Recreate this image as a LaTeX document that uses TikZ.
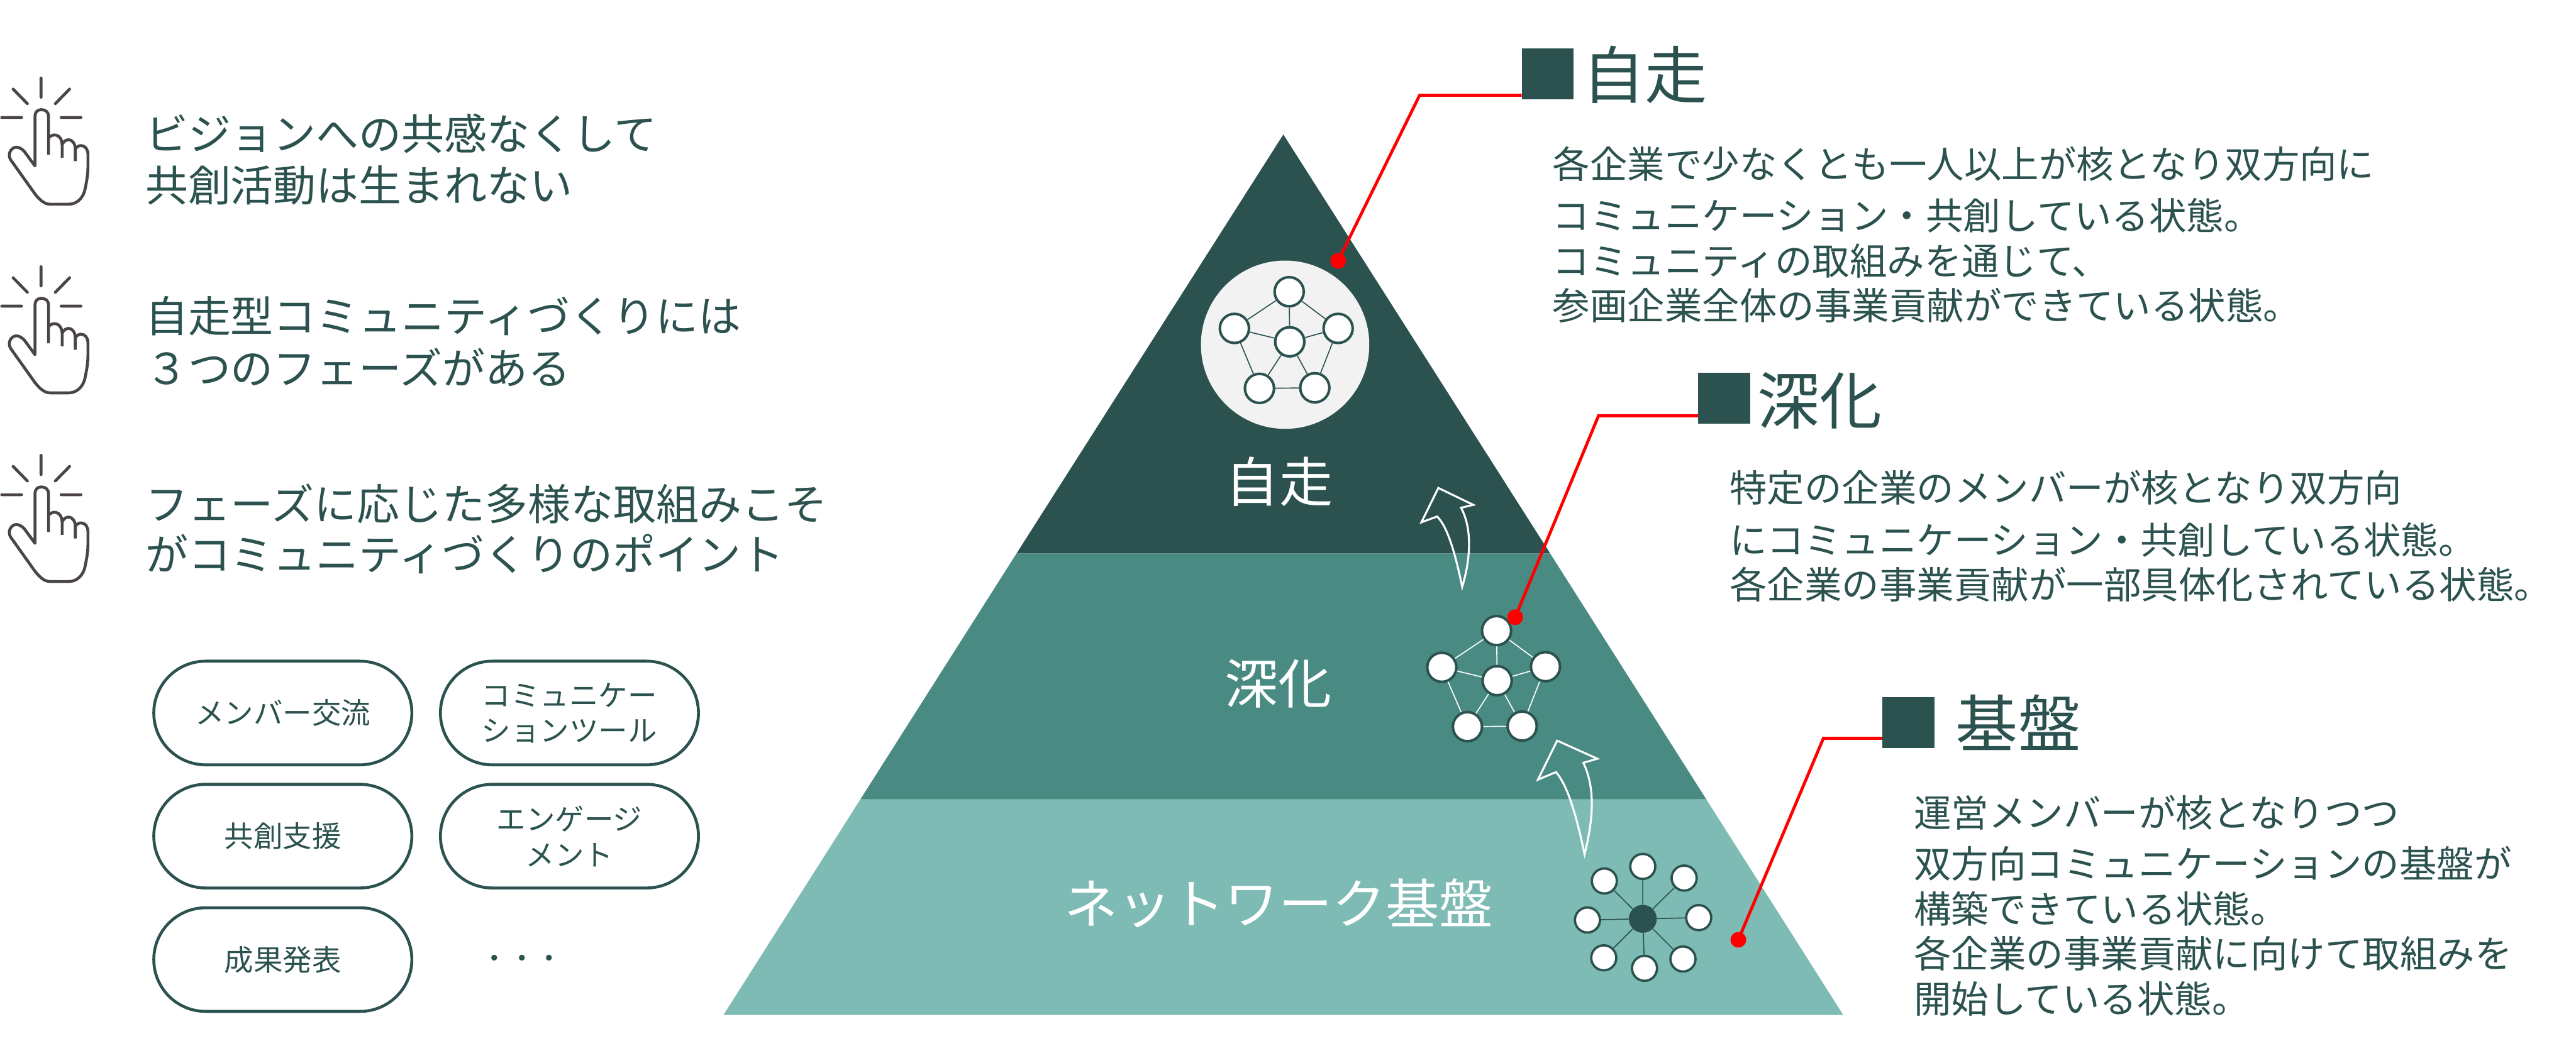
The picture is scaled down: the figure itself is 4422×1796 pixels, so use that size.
\documentclass[tikz,border=0pt]{standalone}
\usepackage{fontspec}
\usetikzlibrary{shapes.misc}
\setmainfont{Noto Sans CJK JP}
\definecolor{dk}{HTML}{2B524F}
\definecolor{md}{HTML}{498A83}
\definecolor{lt}{HTML}{7FBBB5}
\definecolor{hd}{HTML}{4A4544}
\definecolor{rd}{HTML}{FF0000}
\definecolor{pale}{HTML}{F2F2F2}
\tikzset{
  x=0.5pt,y=-0.5pt,
  lefttxt/.style={anchor=base west,inner sep=0pt,text=dk,font=\fontsize{36.7pt}{40pt}\selectfont},
  bodytxt/.style={anchor=base west,inner sep=0pt,text=dk,font=\fontsize{32.1pt}{36pt}\selectfont},
  headtxt/.style={anchor=base west,inner sep=0pt,text=dk,font=\fontsize{53.5pt}{56pt}\selectfont},
  pyrtxt/.style={anchor=base,inner sep=0pt,text=white,font=\fontsize{46pt}{50pt}\selectfont},
  pill/.style={draw=dk,line width=2.5pt,rounded rectangle,minimum width=221.5pt,minimum height=89pt,inner sep=0pt,align=center,text=dk,font=\fontsize{25.1pt}{30.5pt}\selectfont},
  headsq/.style={fill=dk,inner sep=0pt,minimum width=44.5pt,minimum height=44pt},
  netn/.style={circle,draw=dk,fill=white,line width=2.2pt,inner sep=0pt,minimum size=25pt},
  smalln/.style={circle,draw=dk,fill=white,line width=2pt,inner sep=0pt,minimum size=21.5pt},
  hubn/.style={circle,fill=dk,inner sep=0pt,minimum size=24pt},
  netedge/.style={line width=0.9pt},
  reddot/.style={circle,fill=rd,inner sep=0pt,minimum size=13.5pt},
  redline/.style={draw=rd,line width=2.6pt},
  uparrow/.style={draw=white,line width=1.7pt,miter limit=20},
  handicon/.pic={
    \draw[hd,line width=2.5pt,line cap=round] (70.5,134)--(70.5,167) (22.5,153)--(47,178) (119.5,153)--(95,178) (3,201.7)--(37,201.7) (105,201.7)--(139,201.7);
    \draw[hd,line width=2.5pt,line join=round] (83.3,265.7)--(83.3,200) .. controls (83.3,192) and (78,188.3) .. (70.7,188.3) .. controls (64,188.3) and (60,193) .. (60,200) -- (60,285) -- (41.7,260) .. controls (36,254) and (30,252) .. (26,253) .. controls (18,255) and (13,265) .. (18,274) -- (60,333) .. controls (68,343) and (76,350.7) .. (86,350.7) -- (118,350.7) .. controls (132,350.7) and (143,340) .. (146,325) .. controls (149,310) and (151,300) .. (151,285) -- (151,265) .. controls (151,256) and (146,250) .. (139,250) .. controls (135,250) and (132,252) .. (129.3,256) -- (129.3,276.7);
    \draw[hd,line width=2.5pt,line join=round] (83.3,236.7) .. controls (88,232) and (92,231.5) .. (96,232) .. controls (102,233) and (106.7,240) .. (106.7,248) -- (106.7,270.7);
    \draw[hd,line width=2.5pt,line join=round] (106.7,248) .. controls (110,242) and (114,240) .. (118,240) .. controls (124,240) and (129.3,247) .. (129.3,256);
  }
}
\begin{document}
\begin{tikzpicture}
\useasboundingbox[fill=white] (0,0) rectangle (4422,1796);
% pyramid
\fill[lt] (1477,1372.7)--(2929,1372.7)--(3164,1743)--(1242,1743)--cycle;
\fill[md] (1745,950.5)--(2661,950.5)--(2929,1372.7)--(1477,1372.7)--cycle;
\fill[dk] (2203,231)--(2661,950.5)--(1745,950.5)--cycle;
% growth arrows
\draw[uparrow] (2510,1008) .. controls (2526,955) and (2526,905) .. (2508,872) -- (2529,867) -- (2469,838) -- (2440,897) -- (2467,887) .. controls (2485,905) and (2498,950) .. cycle;
\draw[uparrow] (2720,1467) .. controls (2737,1400) and (2737,1350) .. (2718,1310) -- (2742,1303) -- (2673,1272) -- (2640,1339) -- (2671,1326) .. controls (2690,1348) and (2705,1395) .. cycle;
% top network
\node[circle,fill=pale,inner sep=0pt,minimum size=144.5pt] (topdisc) at (2206,592) {};
\node[netn] (a1) at (2213,501) {};
\node[netn] (a2) at (2119,564) {};
\node[netn] (a3) at (2297,564) {};
\node[netn] (a4) at (2214,587) {};
\node[netn] (a5) at (2162,667) {};
\node[netn] (a6) at (2257,666) {};
\draw[dk,netedge] (a1)--(a2) (a1)--(a3) (a1)--(a4) (a2)--(a4) (a3)--(a4) (a2)--(a5) (a3)--(a6) (a4)--(a5) (a4)--(a6) (a5)--(a6);
% middle network
\node[netn] (b1) at (2569,1083) {};
\node[netn] (b2) at (2475,1146) {};
\node[netn] (b3) at (2653,1145) {};
\node[netn] (b4) at (2570,1169) {};
\node[netn] (b5) at (2519,1248) {};
\node[netn] (b6) at (2613,1247) {};
\draw[white,netedge] (b1)--(b2) (b1)--(b3) (b1)--(b4) (b2)--(b4) (b3)--(b4) (b2)--(b5) (b3)--(b6) (b4)--(b5) (b4)--(b6) (b5)--(b6);
% bottom network
\node[hubn] (hub) at (2820,1578) {};
\node[smalln] (c1) at (2820,1488) {};
\node[smalln] (c2) at (2891,1508) {};
\node[smalln] (c3) at (2916,1576) {};
\node[smalln] (c4) at (2889,1647) {};
\node[smalln] (c5) at (2823,1663) {};
\node[smalln] (c6) at (2753,1645) {};
\node[smalln] (c7) at (2725,1580) {};
\node[smalln] (c8) at (2754,1513) {};
\draw[dk,netedge] (hub)--(c1) (hub)--(c2) (hub)--(c3) (hub)--(c4) (hub)--(c5) (hub)--(c6) (hub)--(c7) (hub)--(c8);
% pyramid labels
\node[pyrtxt] (ltop) at (2196,862) {自走};
\node[pyrtxt] (lmid) at (2194,1209) {深化};
\node[pyrtxt] (lbase) at (2195,1586) {ネットワーク基盤};
% headings
\node[headsq] (sq1) at (2657,127) {};
\node[headsq] (sq2) at (2959.5,684) {};
\node[headsq] (sq3) at (3276,1241) {};
\node[headtxt] (h1) at (2716,169) {自走};
\node[headtxt] (h2) at (3016,728) {深化};
\node[headtxt] (h3) at (3357,1283) {基盤};
% leaders
\coordinate (k1) at (2437,163.5);
\coordinate (k2) at (2744,714);
\coordinate (k3) at (3130,1268);
\node[reddot] (d1) at (2297,448) {};
\node[reddot] (d2) at (2601,1060) {};
\node[reddot] (d3) at (2984,1614) {};
\draw[redline] (d1.center)--(k1)--(k1-|sq1.west);
\draw[redline] (d2.center)--(k2)--(k2-|sq2.west);
\draw[redline] (d3.center)--(k3)--(k3-|sq3.west);
% right texts
\node[bodytxt] (t11) at (2665,306) {各企業で少なくとも一人以上が核となり双方向に};
\node[bodytxt] (t12) at (2665,395) {コミュニケーション・共創している状態。};
\node[bodytxt] (t13) at (2665,472) {コミュニティの取組みを通じて、};
\node[bodytxt] (t14) at (2665,549) {参画企業全体の事業貢献ができている状態。};
\node[bodytxt] (t21) at (2969,862) {特定の企業のメンバーが核となり双方向};
\node[bodytxt] (t22) at (2969,952) {にコミュニケーション・共創している状態。};
\node[bodytxt] (t23) at (2969,1028) {各企業の事業貢献が一部具体化されている状態。};
\node[bodytxt] (t31) at (3285,1420) {運営メンバーが核となりつつ};
\node[bodytxt] (t32) at (3285,1508) {双方向コミュニケーションの基盤が};
\node[bodytxt] (t33) at (3285,1585) {構築できている状態。};
\node[bodytxt] (t34) at (3285,1662) {各企業の事業貢献に向けて取組みを};
\node[bodytxt] (t35) at (3285,1740) {開始している状態。};
% hands
\pic at (0,0) {handicon};
\pic at (0,324) {handicon};
\pic at (0,648) {handicon};
% left texts
\node[lefttxt] (p11) at (249,257) {ビジョンへの共感なくして};
\node[lefttxt] (p12) at (249,346) {共創活動は生まれない};
\node[lefttxt] (p21) at (249,571) {自走型コミュニティづくりには};
\node[lefttxt] (p22) at (249,660) {３つのフェーズがある};
\node[lefttxt] (p31) at (249,893) {フェーズに応じた多様な取組みこそ};
\node[lefttxt] (p32) at (249,980) {がコミュニティづくりのポイント};
% pills
\node[pill] (m1) at (485.5,1224.5) {メンバー交流};
\node[pill] (m2) at (977.5,1224.5) {コミュニケー\\ションツール};
\node[pill] (m3) at (485.5,1436) {共創支援};
\node[pill] (m4) at (977.5,1436) {エンゲージ\\メント};
\node[pill] (m5) at (485.5,1648) {成果発表};
\node[anchor=center,inner sep=0pt,text=dk,font=\fontsize{23.5pt}{26pt}\selectfont] (m6) at (896,1652) {・・・};
\end{tikzpicture}
\end{document}
